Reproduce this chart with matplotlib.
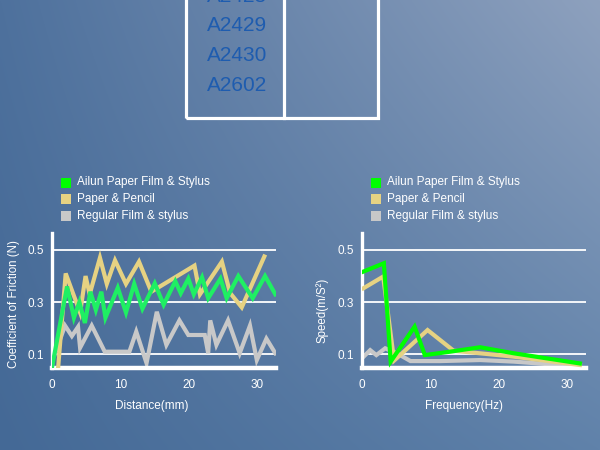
import numpy as np
import matplotlib
matplotlib.use("Agg")
import matplotlib.pyplot as plt
from matplotlib.patches import Rectangle
from matplotlib.lines import Line2D

plt.rcParams['font.family'] = ['Liberation Sans', 'DejaVu Sans']

# ---------------- data ----------------
series_names = ["Ailun Paper Film & Stylus", "Paper & Pencil", "Regular Film & stylus"]

# Left chart: coefficient of friction vs distance
ailun_dist = [0.0, 2.2, 3.2, 4.0, 4.8, 5.6, 6.4, 7.2, 7.8, 9.6, 10.8, 12.0, 13.2, 15.0, 16.3,
              18.0, 18.8, 19.9, 20.7, 21.9, 22.8, 24.6, 25.5, 27.2, 29.3, 31.1, 32.6]
ailun_cof = [0.05, 0.36, 0.24, 0.30, 0.22, 0.34, 0.27, 0.34, 0.24, 0.355, 0.26, 0.37, 0.275, 0.372, 0.29,
             0.38, 0.334, 0.39, 0.33, 0.395, 0.315, 0.39, 0.315, 0.40, 0.315, 0.40, 0.33]
paper_dist = [0.9, 2.0, 4.1, 4.9, 5.5, 7.0, 8.0, 9.2, 10.8, 12.7, 14.5, 20.8, 21.6, 24.8, 26.0, 27.7, 31.0]
paper_cof = [0.05, 0.41, 0.26, 0.40, 0.33, 0.47, 0.37, 0.46, 0.37, 0.455, 0.34, 0.44, 0.33, 0.455, 0.335, 0.28, 0.475]
regular_dist = [0.4, 1.9, 2.9, 3.8, 4.1, 5.8, 7.7, 11.3, 12.3, 13.8, 15.3, 16.7, 18.6, 19.9, 22.3,
                22.8, 23.1, 24.0, 25.7, 27.4, 28.9, 29.9, 31.3, 32.6]
regular_cof = [0.10, 0.21, 0.17, 0.205, 0.125, 0.21, 0.11, 0.11, 0.187, 0.066, 0.263, 0.136, 0.23, 0.174, 0.174,
               0.104, 0.23, 0.136, 0.23, 0.104, 0.21, 0.078, 0.16, 0.104]

# Right chart: speed vs frequency
ailun_freq = [0.2, 3.2, 4.2, 7.7, 9.2, 12.9, 17.3, 22.2, 31.9]
ailun_speed = [0.417, 0.449, 0.072, 0.206, 0.097, 0.11, 0.127, 0.104, 0.065]
paper_freq = [0.2, 3.1, 4.7, 9.6, 13.4, 22.2, 31.9]
paper_speed = [0.353, 0.398, 0.076, 0.193, 0.114, 0.091, 0.059]
regular_freq = [0.2, 1.2, 2.1, 3.4, 5.1, 7.1, 11.4, 17.3, 22.2, 31.9]
regular_speed = [0.09, 0.116, 0.097, 0.123, 0.104, 0.074, 0.074, 0.078, 0.072, 0.053]

y_ticks = [0.1, 0.3, 0.5]
y_tick_labels = ["0.1", "0.3", "0.5"]
x_ticks = [0, 10, 20, 30]
x_tick_labels = ["0", "10", "20", "30"]

table_codes = ["A2428", "A2429", "A2430", "A2602"]

# ---------------- style ----------------
legend_colors = ["#00ff00", "#e6d282", "#c8c8c8"]
left_colors = ["#1fef63", "#e6d282", "#c8c8c8"]
right_colors = ["#00ff00", "#e6d282", "#c8c8c8"]

W, H = 600, 450
fig = plt.figure(figsize=(W / 100, H / 100), dpi=100)

# background gradient
bg = fig.add_axes([0, 0, 1, 1], zorder=-10)
X, Y = np.meshgrid(np.linspace(0, 1, 300), np.linspace(1, 0, 225))
TL = np.array([78, 113, 157]) / 255
TR = np.array([142, 161, 190]) / 255
BL = np.array([68, 105, 150]) / 255
BR = np.array([96, 130, 170]) / 255
img = ((1 - X)[..., None] * (Y[..., None] * TL + (1 - Y)[..., None] * BL)
       + X[..., None] * (Y[..., None] * TR + (1 - Y)[..., None] * BR))
bg.imshow(img, extent=[0, 1, 0, 1], aspect='auto', interpolation='bilinear')
bg.set_axis_off()

# top table
def fx(px):
    return px / W

def fy(py):
    return 1 - py / H

fig.add_artist(Rectangle((fx(186), fy(118)), fx(378) - fx(186), fy(-20) - fy(118),
                         transform=fig.transFigure, fill=False, edgecolor='white', linewidth=2.3))
fig.add_artist(Line2D([fx(284), fx(284)], [fy(118), fy(-20)], transform=fig.transFigure,
                      color='white', linewidth=2.3))
for i, code in enumerate(table_codes):
    fig.text(fx(237), fy(-4 + 29.7 * i), code, color="#1e5caf", fontsize=15,
             ha='center', va='center')


def style_axes(ax, ylabel, xlabel, xmax):
    ax.set_facecolor('none')
    ax.set_xlim(0, xmax)
    ax.set_ylim(0.0475, 0.565)
    for s in ['top', 'right']:
        ax.spines[s].set_visible(False)
    ax.spines['left'].set_color('white')
    ax.spines['left'].set_linewidth(2.4)
    ax.spines['bottom'].set_color('white')
    ax.spines['bottom'].set_linewidth(3.2)
    for yv in y_ticks:
        ax.axhline(yv, color='white', linewidth=1.3, zorder=1)
    ax.set_yticks(y_ticks)
    ax.set_yticklabels(y_tick_labels)
    ax.set_xticks(x_ticks)
    ax.set_xticklabels(x_tick_labels)
    ax.tick_params(axis='both', length=0, colors='white', labelsize=8.5)
    ax.tick_params(axis='y', pad=6)
    ax.tick_params(axis='x', pad=8)
    ax.set_xlabel(xlabel, color='white', fontsize=8.5)
    ax.set_ylabel(ylabel, color='white', fontsize=8.3)


# left chart
axL = fig.add_axes([fx(52), fy(368), (276 - 52) / W, (368 - 233) / H])
style_axes(axL, "Coefficient of Friction (N)", "Distance(mm)", 224 / 6.85)
axL.plot(paper_dist, paper_cof, color=left_colors[1], lw=3, zorder=3, solid_joinstyle='miter')
axL.plot(ailun_dist, ailun_cof, color=left_colors[0], lw=3, zorder=4, solid_joinstyle='miter')
axL.plot(regular_dist, regular_cof, color=left_colors[2], lw=3, zorder=2, solid_joinstyle='miter')
axL.xaxis.set_label_coords((152 - 52) / 224, -0.24)
axL.yaxis.set_label_coords(-0.145, 0.47)

# right chart
axR = fig.add_axes([fx(362), fy(368), (586 - 362) / W, (368 - 233) / H])
style_axes(axR, "Speed(m/S\u00b2)", "Frequency(Hz)", 224 / 6.83)
axR.plot(regular_freq, regular_speed, color=right_colors[2], lw=3, zorder=2, solid_joinstyle='miter')
axR.plot(paper_freq, paper_speed, color=right_colors[1], lw=3, zorder=3, solid_joinstyle='miter')
axR.plot(ailun_freq, ailun_speed, color=right_colors[0], lw=3, zorder=4, solid_joinstyle='miter')
axR.xaxis.set_label_coords((464 - 362) / 224, -0.24)
axR.yaxis.set_label_coords(-0.15, 0.43)

# legends (custom, figure coords)
for x0 in (61, 371):
    for i, (name, col) in enumerate(zip(series_names, legend_colors)):
        yc = 182.5 + 16.5 * i
        fig.add_artist(Rectangle((fx(x0), fy(yc + 5)), 10 / W, 10 / H, transform=fig.transFigure,
                                 facecolor=col, edgecolor='none'))
        fig.text(fx(x0 + 16), fy(yc), name, color='white', fontsize=8.5, ha='left', va='center')

fig.savefig("out.png", dpi=100)
